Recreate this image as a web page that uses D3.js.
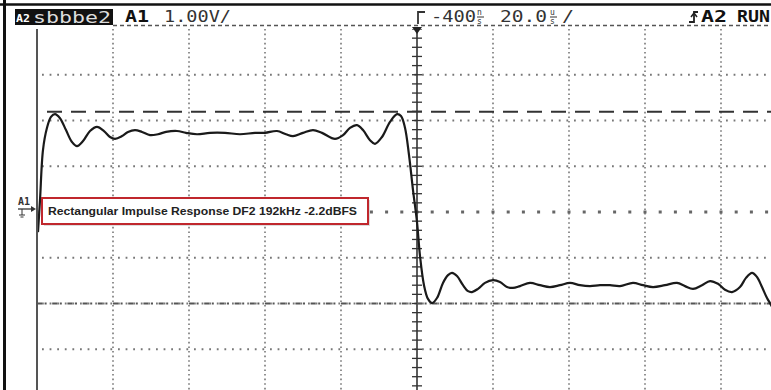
<!DOCTYPE html>
<html><head><meta charset="utf-8">
<script src="https://cdn.jsdelivr.net/npm/d3@7"></script>
<style>
html,body{margin:0;padding:0;background:#fff;overflow:hidden}
svg{display:block}
</style></head><body>
<svg id="c" width="771" height="390"></svg>
<script>
// ---- data (time in µs, voltage in V) ----
const traceTime = [-99.74,-99.21,-98.42,-97.37,-96.32,-95.26,-93.95,-92.37,-90.79,-89.47,-87.89,-86.05,-84.21,-82.37,-80.79,-79.47,-77.63,-76.05,-74.21,-72.37,-70.26,-68.16,-66.05,-63.16,-60.79,-57.89,-54.47,-50.53,-46.58,-42.63,-40.00,-36.84,-34.47,-32.63,-30.00,-27.37,-25.00,-21.58,-19.47,-17.63,-15.79,-14.21,-12.37,-11.05,-9.21,-7.11,-5.26,-4.21,-3.16,-2.11,-1.05,0,0.79,1.84,2.89,3.95,5.26,6.84,8.16,9.21,10.53,12.11,13.42,14.47,16.05,17.89,20.00,21.84,23.68,25.26,27.11,29.74,32.37,35.00,37.63,40.26,42.89,45.53,48.16,50.79,53.42,56.84,59.47,62.11,65.26,68.42,70.53,72.63,75.00,77.11,79.21,81.05,82.89,85.00,86.58,88.16,89.47,90.79,92.11,93.16,94.47];
const traceVolt = [-0.44,0.26,1.36,1.84,2.08,2.14,2.05,1.79,1.53,1.44,1.55,1.77,1.86,1.77,1.64,1.60,1.66,1.75,1.79,1.75,1.68,1.70,1.75,1.77,1.73,1.70,1.73,1.73,1.70,1.73,1.73,1.77,1.70,1.66,1.73,1.79,1.73,1.60,1.68,1.84,1.90,1.79,1.57,1.49,1.64,1.97,2.14,2.10,1.84,1.25,0.48,-0.22,-0.96,-1.60,-1.90,-1.99,-1.88,-1.55,-1.38,-1.33,-1.40,-1.60,-1.73,-1.75,-1.68,-1.55,-1.49,-1.53,-1.64,-1.66,-1.62,-1.55,-1.60,-1.64,-1.60,-1.55,-1.60,-1.62,-1.60,-1.60,-1.62,-1.55,-1.60,-1.64,-1.60,-1.55,-1.62,-1.68,-1.60,-1.51,-1.57,-1.70,-1.75,-1.64,-1.44,-1.33,-1.42,-1.64,-1.88,-2.03,-2.25];
const gridTimes = [-80,-60,-40,-20,20,40,60,80];
const gridVolts = [3,2,1,-1,-2,-3];
const cursorTop = [2.19];
const cursorBottom = [-2.0];
const headerLeft = "sbbbe2";
const channelLabel = "A1";
const voltsPerDiv = "1.00V/";
const delayText = "-400";
const timeText = "20.0";
const runText = ["A2", "RUN"];
const annotation = "Rectangular Impulse Response DF2 192kHz -2.2dBFS";

const svg = d3.select("#c");
const W = 771, H = 390;
const x = d3.scaleLinear().domain([-100, 100]).range([37, 797]);
const y = d3.scaleLinear().domain([-4, 4]).range([395, 29]);
const mono = "'DejaVu Sans Mono', monospace";

svg.append("defs").append("clipPath").attr("id","plot")
  .append("rect").attr("x", x(-100)).attr("y", y(4)).attr("width", W - x(-100)).attr("height", H - y(4));

const g = svg.append("g").attr("clip-path","url(#plot)");

// vertical dotted grid
g.selectAll(".vg").data(gridTimes).enter().append("line")
  .attr("x1", d => x(d)).attr("x2", d => x(d)).attr("y1", y(4)).attr("y2", H)
  .attr("stroke", "#777").attr("stroke-width", 1.6).attr("stroke-dasharray", "1.6,3");
// horizontal dotted grid
g.selectAll(".hg").data(gridVolts).enter().append("line")
  .attr("x1", x(-100)).attr("x2", W).attr("y1", d => y(d)).attr("y2", d => y(d))
  .attr("stroke", "#777").attr("stroke-width", 1.8).attr("stroke-dasharray", "1.8,5.8")
  .attr("stroke-dashoffset", -5);
// center horizontal axis (bigger dots)
g.append("line").attr("x1", x(-100)).attr("x2", W).attr("y1", y(0)).attr("y2", y(0))
  .attr("stroke", "#666").attr("stroke-width", 3).attr("stroke-dasharray", "3,12.2")
  .attr("stroke-dashoffset", -13.7);

// center vertical axis with ticks
g.append("line").attr("x1", x(0)).attr("x2", x(0)).attr("y1", y(4)).attr("y2", H)
  .attr("stroke", "#333").attr("stroke-width", 1.6);
const vTicks = d3.range(-4, 4.01, 0.2);
g.selectAll(".vt").data(vTicks).enter().append("line")
  .attr("x1", x(0) - 5).attr("x2", x(0) + 5).attr("y1", d => y(d)).attr("y2", d => y(d))
  .attr("stroke", "#333").attr("stroke-width", 1.3);

// cursor lines
g.selectAll(".ct").data(cursorTop).enter().append("line")
  .attr("x1", x(-100)).attr("x2", W).attr("y1", d => y(d)).attr("y2", d => y(d))
  .attr("stroke", "#333").attr("stroke-width", 2).attr("stroke-dasharray", "15,9")
  .attr("stroke-dashoffset", -10);
g.selectAll(".cb").data(cursorBottom).enter().append("line")
  .attr("x1", x(-100)).attr("x2", W).attr("y1", d => y(d)).attr("y2", d => y(d))
  .attr("stroke", "#555").attr("stroke-width", 2).attr("stroke-dasharray", "5,2.6,2,5.6");

// left border of grid
svg.append("line").attr("x1", x(-100)).attr("x2", x(-100)).attr("y1", y(4)).attr("y2", H)
  .attr("stroke", "#555").attr("stroke-width", 2);

// trace
const pts = traceTime.map((t, i) => [t, traceVolt[i]]);
g.append("path").datum(pts)
  .attr("d", d3.line().x(d => x(d[0])).y(d => y(d[1])).curve(d3.curveCatmullRom.alpha(0.5)))
  .attr("fill", "none").attr("stroke", "#1a1a1a").attr("stroke-width", 2.2)
  .attr("stroke-linejoin", "round");

// trigger marker arrow on top of center axis
svg.append("path")
  .attr("d", `M${x(0)-5},${y(4)-2} L${x(0)+5},${y(4)-2} L${x(0)},${y(4)+5} Z`)
  .attr("fill", "#222");

// ---- frame ----
svg.append("line").attr("x1", 0).attr("x2", W).attr("y1", 4.5).attr("y2", 4.5)
  .attr("stroke", "#111").attr("stroke-width", 2.5);
svg.append("line").attr("x1", 4.5).attr("x2", 4.5).attr("y1", 0).attr("y2", H)
  .attr("stroke", "#111").attr("stroke-width", 3);

// header dashed line
svg.append("line").attr("x1", 113).attr("x2", W).attr("y1", 25.5).attr("y2", 25.5)
  .attr("stroke", "#555").attr("stroke-width", 1.5).attr("stroke-dasharray", "4,3");

// inverted block
svg.append("rect").attr("x", 15).attr("y", 9).attr("width", 98).attr("height", 16).attr("fill", "#111");
svg.append("text").attr("x", 16).attr("y", 22).attr("font-family", mono).attr("font-weight", "bold")
  .attr("font-size", 11).attr("fill", "#fff").attr("textLength", 14).attr("lengthAdjust", "spacingAndGlyphs").text("A2");
svg.append("text").attr("x", 33).attr("y", 23).attr("font-family", mono)
  .attr("font-size", 16).attr("fill", "#ddd").attr("textLength", 78).attr("lengthAdjust", "spacingAndGlyphs").text(headerLeft);

const hdr = (txt, x0, w, opts = {}) => svg.append("text").attr("x", x0).attr("y", 22)
  .attr("font-family", mono).attr("font-size", opts.size || 16)
  .attr("font-weight", opts.bold ? "bold" : "normal").attr("fill", opts.fill || "#333")
  .attr("textLength", w).attr("lengthAdjust", "spacingAndGlyphs").text(txt);

hdr(channelLabel, 125, 24, {bold: true, fill: "#111"});
hdr(voltsPerDiv, 164, 67);
svg.append("path").attr("d", "M425,12 L418,12 L418,24").attr("fill", "none").attr("stroke", "#333").attr("stroke-width", 1.8);
hdr(delayText, 431, 45);
const stacked = (top, bottom, x0) => {
  svg.append("text").attr("x", x0).attr("y", 15).attr("font-family", mono).attr("font-size", 8).attr("fill", "#333").text(top);
  svg.append("line").attr("x1", x0).attr("x2", x0 + 7).attr("y1", 17).attr("y2", 17).attr("stroke", "#333").attr("stroke-width", 1);
  svg.append("text").attr("x", x0).attr("y", 24).attr("font-family", mono).attr("font-size", 8).attr("fill", "#333").text(bottom);
};
stacked("n", "s", 477);
hdr(timeText, 500, 47);
stacked("u", "s", 550);
hdr("/", 562, 12);
svg.append("path").attr("d", "M689,22 L694,22 L694,12 L698,12").attr("fill", "none").attr("stroke", "#222").attr("stroke-width", 1.8);
svg.append("path").attr("d", "M691,17 L694,13 L697,17").attr("fill", "none").attr("stroke", "#222").attr("stroke-width", 1.5);
hdr(runText[0], 701, 26, {bold: true, fill: "#111"});
hdr(runText[1], 737, 33, {bold: true, fill: "#111"});

// A1 ground marker on left
svg.append("text").attr("x", 18).attr("y", 205).attr("font-family", mono).attr("font-weight", "bold")
  .attr("font-size", 10).attr("fill", "#333").text(channelLabel);
svg.append("line").attr("x1", 18).attr("x2", 33).attr("y1", y(0) - 3).attr("y2", y(0) - 3).attr("stroke", "#333").attr("stroke-width", 1.3);
svg.append("path").attr("d", `M31,${y(0)-6} L36,${y(0)-3} L31,${y(0)} Z`).attr("fill", "#333");
svg.append("line").attr("x1", 22).attr("x2", 22).attr("y1", y(0) - 3).attr("y2", y(0) + 3).attr("stroke", "#333").attr("stroke-width", 1);
svg.append("line").attr("x1", 19).attr("x2", 25).attr("y1", y(0) + 3).attr("y2", y(0) + 3).attr("stroke", "#333").attr("stroke-width", 1);
svg.append("line").attr("x1", 20.5).attr("x2", 23.5).attr("y1", y(0) + 5).attr("y2", y(0) + 5).attr("stroke", "#333").attr("stroke-width", 1);

// annotation box
svg.append("rect").attr("x", 44).attr("y", 200).attr("width", 326).attr("height", 26)
  .attr("fill", "#bbb").attr("opacity", 0.5);
svg.append("rect").attr("x", 42).attr("y", 198).attr("width", 326).attr("height", 26)
  .attr("fill", "#fff").attr("stroke", "#c0272d").attr("stroke-width", 2);
svg.append("text").attr("x", 48).attr("y", 215).attr("font-family", "'Liberation Sans', Arial, sans-serif")
  .attr("font-weight", "bold").attr("font-size", 11).attr("fill", "#222")
  .attr("textLength", 309).attr("lengthAdjust", "spacingAndGlyphs").text(annotation);
</script></body></html>
